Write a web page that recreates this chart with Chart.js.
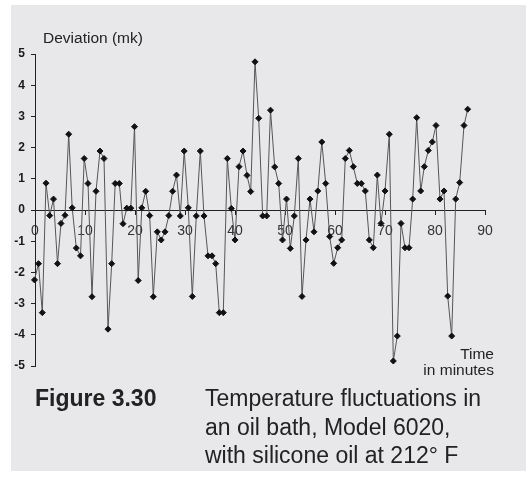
<!DOCTYPE html>
<html>
<head>
<meta charset="utf-8">
<script src="https://cdn.jsdelivr.net/npm/chart.js@4"></script>
<style>
  body { margin: 0; background: #fff; }
  #wrap { position: relative; width: 530px; height: 478px; font-family: "Liberation Sans", Arial, sans-serif; color: #222; }
  #panel { position: absolute; left: 11px; top: 5px; width: 515px; height: 466px; background: #e8e8eb; }
  #chart { position: absolute; left: 0; top: 0; }
  .txt { position: absolute; white-space: nowrap; line-height: 1; }
</style>
</head>
<body>
<div id="wrap">
  <div id="panel"></div>
  <canvas id="chart" width="530" height="478"></canvas>
  <div class="txt" style="left:43px; top:29.5px; font-size:15.5px;">Deviation (mk)</div>
  <div class="txt" style="right:36px; top:346px; font-size:15.5px; text-align:right;">Time</div>
  <div class="txt" style="right:36px; top:362px; font-size:15.5px; text-align:right;">in minutes</div>
  <div class="txt" style="left:35px; top:387px; font-size:23px; font-weight:bold;">Figure 3.30</div>
  <div class="txt" style="left:205px; top:384.4px; font-size:23px; line-height:28.3px;">Temperature fluctuations in<br>an oil bath, Model 6020,<br>with silicone oil at 212&deg; F</div>
</div>
<script>
// time of each reading (minutes) and deviation (mk)
const times = [
  -0.1, 0.7, 1.46, 2.2, 2.94, 3.7, 4.5, 5.2, 6.0, 6.74,
  7.44, 8.26, 9.1, 9.84, 10.6, 11.4, 12.2, 13.0, 13.8, 14.6,
  15.34, 16.04, 16.86, 17.6, 18.36, 19.16, 19.9, 20.64, 21.36, 22.14,
  22.94, 23.66, 24.46, 25.24, 26.0, 26.76, 27.52, 28.3, 29.06, 29.84,
  30.66, 31.46, 32.26, 33.06, 33.8, 34.6, 35.4, 36.14, 36.86, 37.66,
  38.46, 39.26, 40.0, 40.8, 41.6, 42.4, 43.14, 44.0, 44.74, 45.54,
  46.34, 47.1, 47.94, 48.74, 49.5, 50.3, 51.06, 51.86, 52.66, 53.4,
  54.2, 55.0, 55.8, 56.56, 57.36, 58.14, 58.94, 59.74, 60.54, 61.34,
  62.06, 62.86, 63.66, 64.46, 65.26, 66.06, 66.86, 67.66, 68.46, 69.2,
  70.0, 70.86, 71.66, 72.46, 73.2, 74.0, 74.8, 75.54, 76.34, 77.14,
  77.86, 78.66, 79.46, 80.2, 81.0, 81.8, 82.54, 83.34, 84.14, 84.94,
  85.8, 86.54
];

const deviation = [
  -2.24, -1.72, -3.29, 0.86, -0.18, 0.35, -1.72, -0.43, -0.17, 2.43,
  0.07, -1.22, -1.47, 1.65, 0.85, -2.78, 0.6, 1.89, 1.65, -3.82,
  -1.72, 0.85, 0.85, -0.44, 0.06, 0.06, 2.67, -2.26, 0.07, 0.6,
  -0.18, -2.78, -0.7, -0.96, -0.7, -0.18, 0.6, 1.12, -0.19, 1.89,
  0.07, -2.77, -0.19, 1.89, -0.19, -1.47, -1.47, -1.72, -3.29, -3.29,
  1.65, 0.05, -0.96, 1.39, 1.89, 1.11, 0.59, 4.75, 2.94, -0.19,
  -0.19, 3.2, 1.38, 0.85, -0.96, 0.35, -1.23, -0.19, 1.65, -2.77,
  -0.96, 0.35, -0.7, 0.61, 2.18, 0.85, -0.85, -1.71, -1.21, -0.96,
  1.65, 1.91, 1.39, 0.85, 0.85, 0.61, -0.96, -1.21, 1.12, -0.43,
  0.61, 2.43, -4.84, -4.04, -0.43, -1.21, -1.21, 0.35, 2.96, 0.61,
  1.39, 1.91, 2.18, 2.71, 0.35, 0.61, -2.76, -4.04, 0.35, 0.88,
  2.71, 3.23
];

const xTicks = [0, 10, 20, 30, 40, 50, 60, 70, 80, 90];
const yTicks = [-5, -4, -3, -2, -1, 0, 1, 2, 3, 4, 5];

Chart.defaults.font.family = '"Liberation Sans", Arial, sans-serif';

const points = times.map((t, i) => ({ x: t, y: deviation[i] }));

new Chart(document.getElementById("chart"), {
  type: "scatter",
  data: {
    datasets: [
      {
        data: points,
        showLine: true,
        borderColor: "#555",
        borderWidth: 1,
        pointStyle: "rectRot",
        pointRadius: 3,
        pointBackgroundColor: "#111",
        pointBorderColor: "#111",
        pointBorderWidth: 1,
        clip: false
      }
    ]
  },
  options: {
    responsive: false,
    devicePixelRatio: 1,
    animation: false,
    layout: { padding: { left: 0, top: 54, right: 45, bottom: 112 } },
    plugins: { legend: { display: false }, tooltip: { enabled: false } },
    scales: {
      x: {
        type: "linear",
        min: 0,
        max: 90,
        position: { y: 0 },
        afterFit: s => { s.height = 0; },
        afterBuildTicks: s => { s.ticks = xTicks.map(v => ({ value: v })); },
        grid: { drawOnChartArea: false, drawTicks: true, tickLength: 4, color: "#222" },
        border: { display: true, color: "#222", width: 1 },
        ticks: { padding: 9, color: "#333", font: { size: 14 }, maxRotation: 0 }
      },
      y: {
        min: -5,
        max: 5,
        position: "left",
        afterFit: s => { s.width = 35; },
        afterBuildTicks: s => { s.ticks = yTicks.map(v => ({ value: v })); },
        grid: { drawOnChartArea: false, drawTicks: true, tickLength: 4, color: "#222" },
        border: { display: true, color: "#222", width: 1 },
        ticks: { padding: 6, color: "#1a1a1a", font: { size: 12, weight: "bold" } }
      }
    }
  }
});
</script>
</body>
</html>
